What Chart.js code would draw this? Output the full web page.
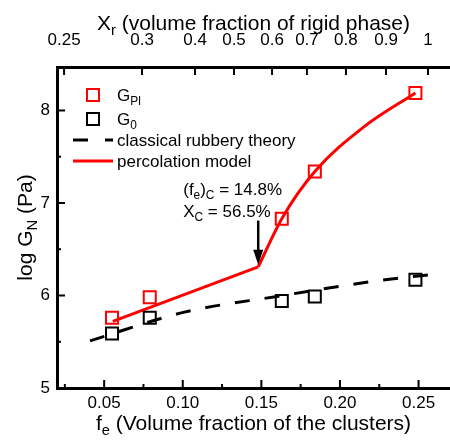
<!DOCTYPE html>
<html>
<head>
<meta charset="utf-8">
<script src="https://cdn.jsdelivr.net/npm/chart.js@4"></script>
<style>
  html, body { margin: 0; padding: 0; background: #fff; overflow: hidden; }
  #wrap { width: 450px; height: 440px; }
</style>
</head>
<body>
<div id="wrap"><canvas id="chart"></canvas></div>
<script>
// values
const feValues = [0.055, 0.079, 0.163, 0.184, 0.248];
const gPl = [5.76, 5.98, 6.83, 7.34, 8.19];
const g0 = [5.59, 5.76, 5.94, 5.99, 6.17];

const rubberyFe = [0.041, 0.101, 0.160, 0.220, 0.265];
const rubberyLog = [5.51, 5.82, 5.99, 6.15, 6.24];

const percLowFe = [0.0555, 0.148];
const percLowLog = [5.72, 6.31];
const percHighFe = [0.148, 0.163, 0.184, 0.215, 0.248];
const percHighLog = [6.31, 6.83, 7.34, 7.82, 8.19];

const bottomTicks = [0.05, 0.10, 0.15, 0.20, 0.25];
const bottomMinor = [0.025, 0.075, 0.125, 0.175, 0.225];
const leftTicks = [5, 6, 7, 8];
const leftMinor = [5.5, 6.5, 7.5];
const topTickLabels = ['0.25', '0.3', '0.4', '0.5', '0.6', '0.7', '0.8', '0.9', '1'];
const topTickFe = [0.0245, 0.0741, 0.1078, 0.1326, 0.1568, 0.179, 0.2038, 0.2293, 0.256];

const critFe = 0.148;
const critLog = 6.31;

const FONT = '"Liberation Sans", Arial, sans-serif';
const RED = '#ff0000';

function toPoints(xs, ys) {
    return xs.map((x, i) => ({ x: x, y: ys[i] }));
}

// text with subscripts: parts = [[text, isSub], ...]
function drawRich(ctx, parts, x, y, size, align) {
    const subSize = size * 0.7;
    let total = 0;
    parts.forEach(p => {
        ctx.font = (p[1] ? subSize : size) + 'px ' + FONT;
        total += ctx.measureText(p[0]).width;
    });
    let cx = align === 'center' ? x - total / 2 : x;
    ctx.textAlign = 'left';
    ctx.textBaseline = 'alphabetic';
    parts.forEach(p => {
        ctx.font = (p[1] ? subSize : size) + 'px ' + FONT;
        ctx.fillText(p[0], cx, p[1] ? y + size * 0.25 : y);
        cx += ctx.measureText(p[0]).width;
    });
}

const decorPlugin = {
    id: 'decor',
    afterDraw(chart) {
        const ctx = chart.ctx;
        const area = chart.chartArea;
        const xs = chart.scales.x;
        const x2 = chart.scales.x2;
        const ys = chart.scales.y;
        ctx.save();
        ctx.strokeStyle = '#000';
        ctx.fillStyle = '#000';
        ctx.lineWidth = 2;

        const seg = (x1, y1, x2p, y2p) => {
            ctx.beginPath();
            ctx.moveTo(x1, y1);
            ctx.lineTo(x2p, y2p);
            ctx.stroke();
        };

        // inward ticks
        bottomTicks.forEach(v => { const p = xs.getPixelForValue(v); seg(p, area.bottom, p, area.bottom - 8); });
        bottomMinor.forEach(v => { const p = xs.getPixelForValue(v); seg(p, area.bottom, p, area.bottom - 4); });
        topTickFe.forEach(v => { const p = x2.getPixelForValue(v); seg(p, area.top, p, area.top + 8); });
        leftTicks.forEach(v => { const p = ys.getPixelForValue(v); seg(area.left, p, area.left + 8, p); });
        leftMinor.forEach(v => { const p = ys.getPixelForValue(v); seg(area.left, p, area.left + 4, p); });

        // axis titles
        const midX = (area.left + area.right) / 2;
        drawRich(ctx, [['X', 0], ['r', 1], [' (volume fraction of rigid phase)', 0]], midX, 30, 21, 'center');
        drawRich(ctx, [['f', 0], ['e', 1], [' (Volume fraction of the clusters)', 0]], midX, 430, 21, 'center');
        ctx.save();
        ctx.translate(32, (area.top + area.bottom) / 2);
        ctx.rotate(-Math.PI / 2);
        drawRich(ctx, [['log G', 0], ['N', 1], [' (Pa)', 0]], 0, 0, 21, 'center');
        ctx.restore();

        // legend
        const lx = area.left + 36;
        const tx = area.left + 60;
        const rows = [area.top + 28, area.top + 52, area.top + 73, area.top + 94];
        ctx.lineWidth = 2;
        ctx.strokeStyle = RED;
        ctx.strokeRect(lx - 6, rows[0] - 6, 12, 12);
        ctx.strokeStyle = '#000';
        ctx.strokeRect(lx - 6, rows[1] - 6, 12, 12);
        ctx.lineWidth = 3;
        ctx.setLineDash([15, 17]);
        seg(lx - 20, rows[2], lx + 20, rows[2]);
        ctx.setLineDash([]);
        ctx.strokeStyle = RED;
        seg(lx - 20, rows[3], lx + 20, rows[3]);
        ctx.fillStyle = '#000';
        drawRich(ctx, [['G', 0], ['Pl', 1]], tx, rows[0] + 6, 17, 'left');
        drawRich(ctx, [['G', 0], ['0', 1]], tx, rows[1] + 6, 17, 'left');
        drawRich(ctx, [['classical rubbery theory', 0]], tx, rows[2] + 6, 17, 'left');
        drawRich(ctx, [['percolation model', 0]], tx, rows[3] + 6, 17, 'left');

        // critical point annotation
        const ax = xs.getPixelForValue(critFe);
        const tipY = ys.getPixelForValue(critLog) - 2;
        const topY = ys.getPixelForValue(critLog + 0.5);
        ctx.strokeStyle = '#000';
        ctx.lineWidth = 2.5;
        seg(ax, topY, ax, tipY - 10);
        ctx.beginPath();
        ctx.moveTo(ax, tipY);
        ctx.lineTo(ax - 5, tipY - 15);
        ctx.lineTo(ax + 5, tipY - 15);
        ctx.closePath();
        ctx.fill();
        const textX = ax - 75;
        drawRich(ctx, [['(f', 0], ['e', 1], [')', 0], ['C', 1], [' = 14.8%', 0]], textX, topY - 26, 17, 'left');
        drawRich(ctx, [['X', 0], ['C', 1], [' = 56.5%', 0]], textX, topY - 4, 17, 'left');
        ctx.restore();
    }
};

function initChart() {
    const ctx = document.getElementById('chart').getContext('2d');
    const gridOff = { display: true, drawOnChartArea: false, drawTicks: false };
    const border = { display: true, width: 3, color: '#000' };
    const tickFont = { family: FONT, size: 17 };

    new Chart(ctx, {
        type: 'line',
        data: {
            datasets: [
                {
                    label: 'G_Pl',
                    data: toPoints(feValues, gPl),
                    showLine: false,
                    pointStyle: 'rect',
                    pointRadius: 8.5,
                    pointBorderWidth: 2,
                    pointBorderColor: RED,
                    pointBackgroundColor: 'rgba(0,0,0,0)'
                },
                {
                    label: 'G_0',
                    data: toPoints(feValues, g0),
                    showLine: false,
                    pointStyle: 'rect',
                    pointRadius: 8.5,
                    pointBorderWidth: 2,
                    pointBorderColor: '#000',
                    pointBackgroundColor: 'rgba(0,0,0,0)'
                },
                {
                    label: 'classical rubbery theory',
                    data: toPoints(rubberyFe, rubberyLog),
                    borderColor: '#000',
                    borderWidth: 3,
                    borderDash: [15, 15],
                    pointRadius: 0,
                    cubicInterpolationMode: 'monotone'
                },
                {
                    label: 'percolation model',
                    data: toPoints(percLowFe, percLowLog),
                    borderColor: RED,
                    borderWidth: 3,
                    pointRadius: 0
                },
                {
                    label: 'percolation model (above fc)',
                    data: toPoints(percHighFe, percHighLog),
                    borderColor: RED,
                    borderWidth: 3,
                    pointRadius: 0,
                    cubicInterpolationMode: 'monotone'
                }
            ]
        },
        options: {
            responsive: true,
            maintainAspectRatio: false,
            animation: false,
            devicePixelRatio: 1,
            layout: { padding: 0, autoPadding: false },
            plugins: {
                legend: { display: false },
                tooltip: { enabled: false }
            },
            scales: {
                x: {
                    type: 'linear',
                    position: 'bottom',
                    min: 0.02,
                    max: 0.27,
                    grid: gridOff,
                    border: border,
                    afterBuildTicks: s => { s.ticks = bottomTicks.map(v => ({ value: v })); },
                    afterFit: s => { s.height = 52; },
                    ticks: {
                        font: tickFont,
                        color: '#000',
                        padding: 5,
                        maxRotation: 0,
                        autoSkip: false,
                        callback: v => v.toFixed(2)
                    }
                },
                x2: {
                    type: 'linear',
                    position: 'top',
                    min: 0.02,
                    max: 0.27,
                    grid: gridOff,
                    border: border,
                    afterBuildTicks: s => { s.ticks = topTickFe.map(v => ({ value: v })); },
                    afterFit: s => { s.height = 67; },
                    ticks: {
                        font: tickFont,
                        color: '#000',
                        padding: 16,
                        maxRotation: 0,
                        autoSkip: false,
                        callback: (v, i) => topTickLabels[i]
                    }
                },
                y: {
                    type: 'linear',
                    position: 'left',
                    min: 5,
                    max: 8.47,
                    grid: gridOff,
                    border: border,
                    afterBuildTicks: s => { s.ticks = leftTicks.map(v => ({ value: v })); },
                    afterFit: s => { s.width = 57; },
                    ticks: {
                        font: tickFont,
                        color: '#000',
                        padding: 7,
                        callback: v => String(v)
                    }
                }
            }
        },
        plugins: [decorPlugin]
    });
}

document.addEventListener('DOMContentLoaded', () => {
    initChart();
});
</script>
</body>
</html>
